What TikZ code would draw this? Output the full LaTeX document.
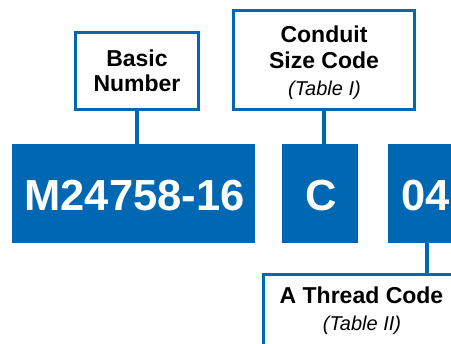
\documentclass[tikz,border=0pt]{standalone}
\usepackage{fontspec}
\setmainfont{Liberation Sans}
\definecolor{pblue}{RGB}{0,104,178}
\begin{document}
\begin{tikzpicture}[x=1pt,y=-1pt,
  frame/.style={draw=pblue,line width=3.3pt,fill=white,inner sep=0pt,outer sep=0pt},
  solid box/.style={fill=pblue,inner sep=0pt,outer sep=0pt},
  conn/.style={draw=pblue,line width=3.8pt},
  lbl/.style={anchor=base,inner sep=0pt,font=\fontsize{23}{25}\selectfont\bfseries},
  tbl/.style={anchor=base,inner sep=0pt,font=\fontsize{20}{24}\selectfont\itshape},
  big/.style={anchor=base,inner sep=0pt,text=white,font=\fontsize{43.5}{48}\selectfont\bfseries}]
\useasboundingbox (0,0) rectangle (451,344);
% frames
\node[frame,minimum width=123pt,minimum height=77pt] (basic) at (137,71) {};
\node[frame,minimum width=181pt,minimum height=99pt] (cond) at (324,60) {};
\node[frame,minimum width=196pt,minimum height=80pt] (thread) at (361.5,314.5) {};
% solid boxes
\node[solid box,minimum width=243pt,minimum height=99pt] (m) at (133.5,193.5) {};
\node[solid box,minimum width=76pt,minimum height=99pt] (c) at (320,193.5) {};
\node[solid box,minimum width=78pt,minimum height=99pt] (n04) at (427,193.5) {};
% connectors
\draw[conn] (basic.south) -- (basic.south |- m.north);
\draw[conn] (cond.south) -- (cond.south |- c.north);
\draw[conn] (n04.south) -- (n04.south |- thread.north);
% texts
\node[lbl] (t1) at (137,67) {Basic};
\node[lbl] (t2) at (137,92) {Number};
\node[lbl] (t3) at (324,43) {Conduit};
\node[lbl] (t4) at (324,69) {Size Code};
\node[tbl] (t5) at (324.5,96) {(Table I)};
\node[big] (t6) at (134.5,211) {M24758-16};
\node[big] (t7) at (321,211) {C};
\node[big] (t8) at (426,211) {04};
\node[lbl] (t9) at (361.5,304) {A Thread Code};
\node[tbl] (t10) at (362,331) {(Table II)};
\end{tikzpicture}
\end{document}
